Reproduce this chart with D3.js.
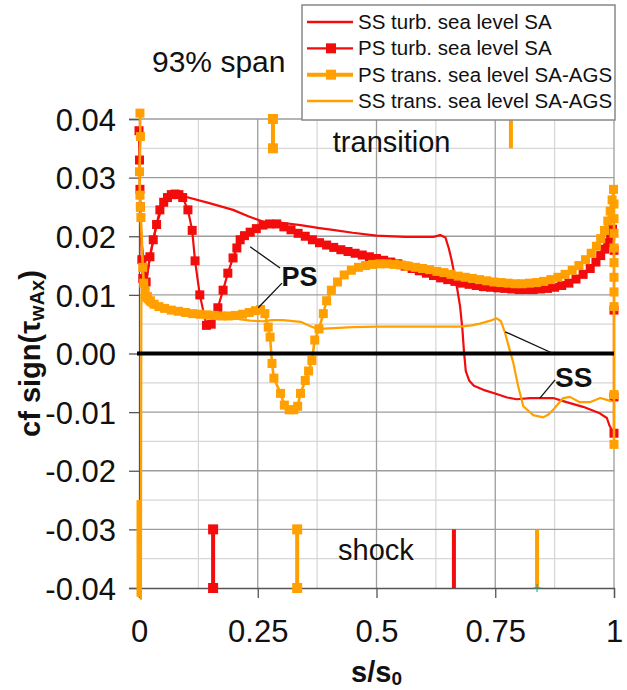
<!DOCTYPE html>
<html><head><meta charset="utf-8">
<script src="https://cdn.jsdelivr.net/npm/d3@7"></script>
<style>body{margin:0;background:#fff} text{font-family:"Liberation Sans",Arial,Helvetica,sans-serif;fill:#111}</style>
</head><body><svg id="c" width="627" height="690"></svg>
<script>
// ---------------- DATA ----------------
const seriesNames = ["SS turb. sea level SA", "PS turb. sea level SA", "PS trans. sea level SA-AGS", "SS trans. sea level SA-AGS"];
const xTicks = [0, 0.25, 0.5, 0.75, 1];
const xTickLabels = ["0", "0.25", "0.5", "0.75", "1"];
const yTicks = [0.04, 0.03, 0.02, 0.01, 0, -0.01, -0.02, -0.03, -0.04];
const yTickLabels = ["0.04", "0.03", "0.02", "0.01", "0.00", "-0.01", "-0.02", "-0.03", "-0.04"];

// SS turb. sea level SA  [s/s0, cf]
const ssTurb = [
 [0.004,0.0200],[0.015,0.0122],[0.023,0.0165],[0.037,0.0220],[0.052,0.0258],[0.070,0.0272],[0.090,0.0270],[0.100,0.0267],[0.150,0.0256],
 [0.198,0.0245],[0.230,0.0234],[0.261,0.0225],[0.300,0.0223],[0.340,0.0219],[0.380,0.0214],[0.408,0.0211],
 [0.450,0.0206],[0.500,0.0201],[0.560,0.0199],[0.620,0.0199],[0.634,0.0202],[0.645,0.0198],[0.652,0.0180],
 [0.658,0.0160],[0.664,0.0135],[0.670,0.0110],[0.676,0.0080],[0.681,0.0040],[0.684,0.0005],[0.688,-0.0030],
 [0.695,-0.0046],[0.705,-0.0055],[0.725,-0.0062],[0.753,-0.0069],[0.775,-0.0075],[0.795,-0.0078],[0.823,-0.0076],
 [0.872,-0.0076],[0.900,-0.0083],[0.935,-0.0091],[0.970,-0.0102],[0.985,-0.0110],[0.990,-0.0122],[0.995,-0.0130]
];
// PS turb. sea level SA
const psTurb = [
 [0.000,0.038],[0.001,0.033],[0.002,0.028],[0.003,0.025],[0.006,0.016],[0.008,0.0128],[0.015,0.0122],
 [0.023,0.0165],[0.030,0.0194],[0.037,0.0220],[0.044,0.0245],[0.052,0.0258],[0.060,0.0266],[0.068,0.0271],
 [0.076,0.0272],[0.084,0.0271],[0.092,0.0266],[0.103,0.0245],[0.112,0.0210],[0.118,0.0158],[0.128,0.0100],
 [0.142,0.0048],[0.152,0.0050],[0.166,0.0078],[0.177,0.0108],[0.187,0.0137],[0.198,0.0163],[0.206,0.0180],
 [0.213,0.0194],[0.222,0.0201],[0.234,0.0207],[0.247,0.0213],[0.261,0.0219],[0.275,0.0221],[0.290,0.0221],
 [0.305,0.0216],[0.320,0.0211],[0.335,0.0205],[0.350,0.0200],[0.365,0.0194],[0.380,0.0189],[0.395,0.0185],
 [0.410,0.0181],[0.425,0.0177],[0.440,0.0174],[0.455,0.0171],[0.470,0.0168],[0.485,0.0165],[0.500,0.0162],
 [0.515,0.0159],[0.530,0.0156],[0.545,0.0153],[0.560,0.0149],[0.575,0.0145],[0.590,0.0141],[0.605,0.0137],
 [0.620,0.0133],[0.635,0.0129],[0.650,0.0126],[0.665,0.0123],[0.680,0.0120],[0.695,0.0118],[0.710,0.0116],
 [0.725,0.0114],[0.740,0.0113],[0.755,0.0112],[0.770,0.0111],[0.785,0.0110],[0.800,0.0109],[0.815,0.0109],
 [0.830,0.0109],[0.845,0.0110],[0.860,0.0111],[0.875,0.0113],[0.890,0.0116],[0.905,0.0120],[0.920,0.0127],
 [0.935,0.0135],[0.950,0.0145],[0.962,0.0156],[0.972,0.0167],[0.980,0.0178],[0.987,0.0189],[0.993,0.0200],
 [0.997,0.0212],[1.000,0.0176],[1.000,0.0074],[1.000,-0.0074],[1.000,-0.0136]
];
// PS trans. sea level SA-AGS
const psTrans = [
 [0.002,0.041],[0.003,0.037],[0.001,0.031],[0.002,0.027],[0.003,0.025],[0.004,0.0232],[0.008,0.0147],
 [0.010,0.0120],[0.013,0.0107],[0.018,0.0097],[0.024,0.0090],[0.032,0.0084],[0.042,0.0080],[0.054,0.0077],
 [0.068,0.0074],[0.083,0.0072],[0.098,0.0070],[0.113,0.0068],[0.128,0.0067],[0.143,0.0066],[0.158,0.0065],
 [0.173,0.0064],[0.188,0.0064],[0.203,0.0065],[0.218,0.0067],[0.232,0.0070],[0.245,0.0073],[0.256,0.0075],
 [0.265,0.0068],[0.272,0.0045],[0.276,0.0028],[0.280,-0.0017],[0.284,-0.0042],[0.298,-0.0068],[0.306,-0.0088],
 [0.316,-0.0096],[0.326,-0.0096],[0.334,-0.0090],[0.340,-0.0068],[0.350,-0.0046],[0.357,-0.0030],[0.364,-0.0012],
 [0.370,0.0023],[0.379,0.0042],[0.388,0.0068],[0.395,0.0090],[0.405,0.0108],[0.418,0.0122],[0.432,0.0134],
 [0.447,0.0142],[0.462,0.0147],[0.477,0.0150],[0.492,0.0152],[0.507,0.0153],[0.522,0.0153],[0.537,0.0152],
 [0.552,0.0151],[0.567,0.0149],[0.582,0.0147],[0.597,0.0145],[0.612,0.0143],[0.627,0.0140],[0.642,0.0138],
 [0.657,0.0135],[0.672,0.0132],[0.687,0.0130],[0.702,0.0128],[0.717,0.0126],[0.732,0.0124],[0.747,0.0122],
 [0.762,0.0121],[0.777,0.0120],[0.792,0.0119],[0.807,0.0119],[0.822,0.0120],[0.837,0.0121],[0.852,0.0123],
 [0.867,0.0126],[0.882,0.0130],[0.897,0.0135],[0.912,0.0142],[0.926,0.0150],[0.940,0.0160],[0.952,0.0171],
 [0.963,0.0183],[0.972,0.0196],[0.980,0.0210],[0.987,0.0226],[0.992,0.0243],[0.996,0.0262],[0.999,0.0280],
 [1.000,0.0255],[1.000,0.0230],[1.000,0.0205],[1.000,0.0180],[1.000,0.0155],[1.000,0.0130],[1.000,0.0105],
 [1.000,0.0080],[1.000,-0.0070],[1.000,-0.0155]
];
// SS trans. sea level SA-AGS
const ssTrans = [
 [0.004,-0.042],[0.005,0.0100],[0.010,0.0090],[0.020,0.0082],[0.040,0.0075],[0.080,0.0069],[0.120,0.0065],
 [0.160,0.0062],[0.200,0.0060],[0.234,0.0056],[0.260,0.0055],[0.280,0.0057],[0.303,0.0057],[0.340,0.0054],
 [0.360,0.0047],[0.375,0.0042],[0.400,0.0043],[0.450,0.0045],[0.500,0.0046],[0.600,0.0046],[0.676,0.0046],
 [0.700,0.0048],[0.718,0.0051],[0.740,0.0056],[0.753,0.0060],[0.762,0.0055],[0.770,0.0037],[0.779,0.0010],
 [0.788,-0.0016],[0.798,-0.0055],[0.809,-0.0090],[0.830,-0.0105],[0.851,-0.0109],[0.862,-0.0104],[0.872,-0.0096],
 [0.893,-0.0076],[0.907,-0.0074],[0.928,-0.0083],[0.949,-0.0083],[0.971,-0.0076],[0.985,-0.0079],[0.995,-0.0082]
];
// shock / transition location markers: position and which series (index in seriesNames)
const shockS = [0.0, 0.156, 0.333, 0.663, 0.838];
const shockSeries = [2, 1, 2, 0, 3];
const shockRange = [-0.03, -0.04];
const transS = [0.282, 0.783];
const transSeries = [2, 3];
const transRange = [0.04, 0.035];

// ---------------- CHART ----------------
const RED = "#f20c0c", ORANGE = "#ffa000";
const colorOf = i => (i < 2 ? RED : ORANGE);
const hasMarker = i => (i === 1 || i === 2);

const svg = d3.select("#c");
const x = d3.scaleLinear().domain([0, 1]).range([139, 614]);
const y = d3.scaleLinear().domain([-0.04, 0.04]).range([588, 119]);

// grid
const g = svg.append("g");
const minorX = d3.range(0, 1.0001, 0.125).filter(v => Math.abs(v / 0.25 - Math.round(v / 0.25)) > 1e-6);
const minorY = d3.range(-0.04, 0.04001, 0.005).filter(v => Math.abs(v / 0.01 - Math.round(v / 0.01)) > 1e-6);
g.selectAll(".mx").data(minorX).join("line").attr("x1", d => x(d)).attr("x2", d => x(d))
  .attr("y1", y(0.04)).attr("y2", y(-0.04)).attr("stroke", "#d6d6d6").attr("stroke-width", 1.2);
g.selectAll(".my").data(minorY).join("line").attr("y1", d => y(d)).attr("y2", d => y(d))
  .attr("x1", x(0)).attr("x2", x(1)).attr("stroke", "#d6d6d6").attr("stroke-width", 1.2);
g.selectAll(".Mx").data(xTicks.slice(1)).join("line").attr("x1", d => x(d)).attr("x2", d => x(d))
  .attr("y1", y(0.04)).attr("y2", y(-0.04)).attr("stroke", "#9c9c9c").attr("stroke-width", 1.3);
g.selectAll(".My").data(yTicks.slice(0, -1)).join("line").attr("y1", d => y(d)).attr("y2", d => y(d))
  .attr("x1", x(0)).attr("x2", x(1)).attr("stroke", "#9c9c9c").attr("stroke-width", 1.3);

// axes
const yAxis = d3.axisLeft(y).tickValues(yTicks).tickFormat((d, i) => yTickLabels[i]).tickSize(10).tickPadding(13);
const xAxis = d3.axisBottom(x).tickValues(xTicks).tickFormat((d, i) => xTickLabels[i]).tickSize(10).tickPadding(22);
const ya = svg.append("g").attr("transform", `translate(${x(0)},0)`).call(yAxis);
const xa = svg.append("g").attr("transform", `translate(0,${y(-0.04)})`).call(xAxis);
[ya, xa].forEach(a => {
  a.select(".domain").attr("stroke", "#555").attr("stroke-width", 1.3);
  a.selectAll(".tick line").attr("stroke", "#555").attr("stroke-width", 1.3);
  a.selectAll(".tick text").attr("font-size", 31).attr("fill", "#111")
    .style("font-family", '"Liberation Sans",Arial,sans-serif');
});
ya.selectAll(".tick text").attr("dy", "0.36em");

// series
const line = d3.line().x(d => x(d[0])).y(d => y(d[1]));
const data = [ssTurb, psTurb, psTrans, ssTrans];
const order = [1, 0, 2, 3];
order.forEach(i => {
  const d = data[i];
  svg.append("path").datum(d).attr("d", line).attr("fill", "none")
    .attr("stroke", colorOf(i)).attr("stroke-width", i === 2 ? 2.6 : 2.2).attr("stroke-linejoin", "round");
  if (hasMarker(i)) {
    svg.append("g").selectAll("rect").data(d).join("rect")
      .attr("x", p => x(p[0]) - 4.5).attr("y", p => y(p[1]) - 4.5)
      .attr("width", 9).attr("height", 9).attr("fill", colorOf(i));
  }
});

// shock and transition markers
function vmark(sArr, serArr, range) {
  sArr.forEach((s, k) => {
    const i = serArr[k];
    const isLE = (k === 0 && range === shockRange);
    const lo = isLE ? [-0.025, -0.0415] : range;
    svg.append("line").attr("x1", x(s)).attr("x2", x(s)).attr("y1", y(lo[0])).attr("y2", y(lo[1]))
      .attr("stroke", colorOf(i)).attr("stroke-width", isLE ? 5 : 4);
    if (hasMarker(i) && !isLE) {
      svg.append("g").selectAll("rect").data(range).join("rect")
        .attr("x", x(s) - 5).attr("y", v => y(v) - 5).attr("width", 10).attr("height", 10).attr("fill", colorOf(i));
    }
  });
}
vmark(shockS, shockSeries, shockRange);
vmark(transS, transSeries, transRange);
// tiny cross at bottom of last shock mark
svg.append("path").attr("d", `M${x(0.838) - 4},${y(-0.04)}h8M${x(0.838)},${y(-0.04) - 4}v8`)
  .attr("stroke", "#1a9a8a").attr("stroke-width", 1);

// zero line
svg.append("line").attr("x1", x(0) - 2).attr("x2", x(1)).attr("y1", y(0)).attr("y2", y(0))
  .attr("stroke", "#000").attr("stroke-width", 4);

// annotations (leader lines in data coordinates)
const leaders = [
  [[0.234, 0.0182], [0.297, 0.0146]],
  [[0.251, 0.0078], [0.301, 0.0120]],
  [[0.771, 0.0037], [0.872, 0.0000]],
  [[0.844, -0.0076], [0.876, -0.0045]]
];
leaders.forEach(l => svg.append("line").attr("x1", x(l[0][0])).attr("y1", y(l[0][1]))
  .attr("x2", x(l[1][0])).attr("y2", y(l[1][1])).attr("stroke", "#111").attr("stroke-width", 1.3));
svg.append("text").attr("x", x(0.3)).attr("y", y(0.0115)).attr("font-size", 27).attr("font-weight", "bold").text("PS");
svg.append("text").attr("x", x(0.876)).attr("y", y(-0.0057)).attr("font-size", 28).attr("font-weight", "bold").text("SS");
svg.append("text").attr("x", x(0.408)).attr("y", y(0.0343)).attr("font-size", 29).text("transition");
svg.append("text").attr("x", x(0.419)).attr("y", y(-0.0353)).attr("font-size", 29).text("shock");
svg.append("text").attr("x", 152).attr("y", 72).attr("font-size", 30).text("93% span");

// axis titles
const xt = svg.append("text").attr("x", x(0.5)).attr("y", 682).attr("text-anchor", "middle")
  .attr("font-size", 29).attr("font-weight", "bold");
xt.append("tspan").text("s/s");
xt.append("tspan").attr("font-size", 19).attr("dy", 3).text("0");
const yt = svg.append("text").attr("transform", `translate(40,${y(0)}) rotate(-90)`).attr("text-anchor", "middle")
  .attr("font-size", 29).attr("font-weight", "bold");
yt.append("tspan").text("cf sign(\u03C4");
yt.append("tspan").attr("font-size", 20).attr("dy", 4).text("wAx");
yt.append("tspan").attr("dy", -4).text(")");

// legend
const lg = svg.append("g");
lg.append("rect").attr("x", 302).attr("y", 5).attr("width", 313).attr("height", 115)
  .attr("fill", "#fff").attr("stroke", "#888").attr("stroke-width", 1.5);
const ly = d3.scalePoint().domain(seriesNames).range([22, 101]);
seriesNames.forEach((n, i) => {
  lg.append("line").attr("x1", 307).attr("x2", 353).attr("y1", ly(n)).attr("y2", ly(n))
    .attr("stroke", colorOf(i)).attr("stroke-width", i === 2 ? 4 : 2.4);
  if (hasMarker(i)) lg.append("rect").attr("x", 326).attr("y", ly(n) - 5).attr("width", 10).attr("height", 10).attr("fill", colorOf(i));
  lg.append("text").attr("x", 358).attr("y", ly(n) + 7).attr("font-size", 20.5).text(n);
});
</script></body></html>
